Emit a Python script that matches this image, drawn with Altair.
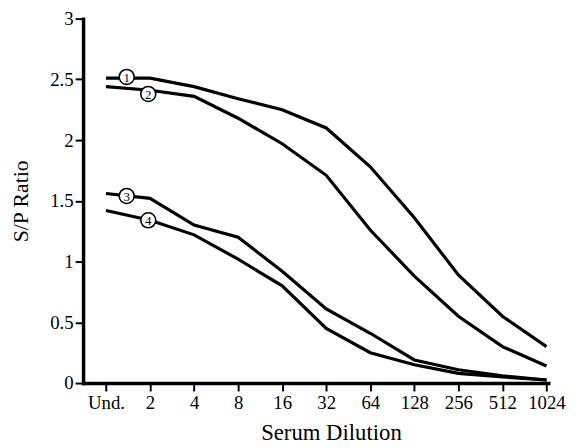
import altair as alt
import pandas as pd

dilutions = ["Und.", "2", "4", "8", "16", "32", "64", "128", "256", "512", "1024"]
series_names = ["1", "2", "3", "4"]
s1 = [2.51, 2.51, 2.44, 2.34, 2.25, 2.10, 1.78, 1.36, 0.89, 0.55, 0.30]
s2 = [2.44, 2.41, 2.36, 2.18, 1.97, 1.71, 1.26, 0.88, 0.55, 0.30, 0.14]
s3 = [1.56, 1.52, 1.30, 1.20, 0.92, 0.61, 0.41, 0.19, 0.11, 0.06, 0.025]
s4 = [1.42, 1.34, 1.22, 1.02, 0.80, 0.45, 0.25, 0.15, 0.08, 0.05, 0.025]
label_x = [0.47, 0.96, 0.47, 0.96]
label_y = [2.52, 2.38, 1.54, 1.34]
label_text = ["1", "2", "3", "4"]

rows = []
for name, vals in zip(series_names, [s1, s2, s3, s4]):
    for i, v in enumerate(vals):
        rows.append({"series": name, "idx": i, "ratio": v})
df = pd.DataFrame(rows)
lab = pd.DataFrame({"x": label_x, "y": label_y, "t": label_text})

font = "Liberation Serif"
label_expr = "[" + ",".join("'" + d + "'" for d in dilutions) + "][datum.value]"

xscale = alt.Scale(domain=[-0.52, 10.04], nice=False, zero=False)
yscale = alt.Scale(domain=[0, 3], nice=False)

lines = alt.Chart(df).mark_line(color="black", strokeWidth=3.2).encode(
    x=alt.X("idx:Q", scale=xscale,
            axis=alt.Axis(values=list(range(len(dilutions))), labelExpr=label_expr,
                          title="Serum Dilution", titleX=251, titleY=57,
                          titleBaseline="alphabetic", titleAlign="center",
                          labelPadding=3)),
    y=alt.Y("ratio:Q", scale=yscale,
            axis=alt.Axis(values=[0, 0.5, 1, 1.5, 2, 2.5, 3], labelExpr="datum.value + ''",
                          title="S/P Ratio", titleX=-56, titleBaseline="alphabetic",
                          titleFontSize=22, labelPadding=2)),
    detail="series:N",
)

circles = alt.Chart(lab).mark_point(shape="circle", filled=False, fill="white", fillOpacity=1,
                                     stroke="black", strokeWidth=1.6, size=230, opacity=1).encode(
    x=alt.X("x:Q", scale=xscale),
    y=alt.Y("y:Q", scale=yscale),
)
texts = alt.Chart(lab).mark_text(font=font, fontSize=13, color="black", baseline="middle",
                                 align="center", dy=1).encode(
    x=alt.X("x:Q", scale=xscale),
    y=alt.Y("y:Q", scale=yscale),
    text="t:N",
)

chart = (lines + circles + texts).properties(
    width=471, height=369,
    autosize=alt.AutoSizeParams(type="none"),
    padding={"left": 76, "top": 8, "right": 20, "bottom": 62},
    background="white",
).configure_view(stroke=None).configure_axis(
    grid=False, domainColor="black", domainWidth=3.5, tickColor="black", tickWidth=2,
    tickSize=8, labelFont=font, labelFontSize=19, labelColor="black",
    titleFont=font, titleFontSize=23, titleColor="black", titleFontWeight="normal",
    domainCap="square",
)

chart.save("out.html", embed_options={"renderer": "svg", "actions": False})
